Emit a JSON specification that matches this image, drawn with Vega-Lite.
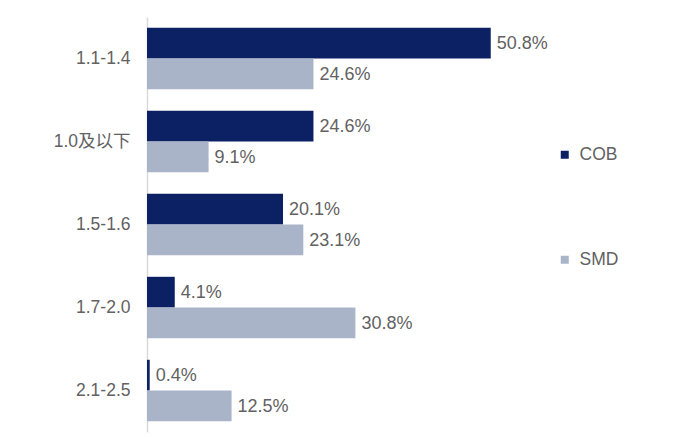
{
  "$schema": "https://vega.github.io/schema/vega-lite/v6.json",
  "autosize": "none",
  "width": 406,
  "height": 415,
  "padding": {"left": 147, "top": 17, "right": 147, "bottom": 5},
  "background": "white",
  "config": {
    "view": {"stroke": null},
    "font": "Liberation Sans, Noto Sans CJK SC"
  },
  "data": {
    "values": [
      {"range": "1.1-1.4", "type": "COB", "share": 0.508},
      {"range": "1.1-1.4", "type": "SMD", "share": 0.246},
      {"range": "1.0及以下", "type": "COB", "share": 0.246},
      {"range": "1.0及以下", "type": "SMD", "share": 0.091},
      {"range": "1.5-1.6", "type": "COB", "share": 0.201},
      {"range": "1.5-1.6", "type": "SMD", "share": 0.231},
      {"range": "1.7-2.0", "type": "COB", "share": 0.041},
      {"range": "1.7-2.0", "type": "SMD", "share": 0.308},
      {"range": "2.1-2.5", "type": "COB", "share": 0.004},
      {"range": "2.1-2.5", "type": "SMD", "share": 0.125}
    ]
  },
  "encoding": {
    "y": {
      "field": "range",
      "type": "nominal",
      "sort": ["1.1-1.4", "1.0及以下", "1.5-1.6", "1.7-2.0", "2.1-2.5"],
      "scale": {"paddingInner": 0.26, "paddingOuter": 0.13},
      "axis": {
        "title": null,
        "ticks": false,
        "domainColor": "#d9d9d9",
        "domainWidth": 1.5,
        "labelColor": "#626262",
        "labelFontSize": 17.5,
        "labelPadding": 17
      }
    },
    "yOffset": {
      "field": "type",
      "type": "nominal",
      "scale": {"domain": ["COB", "SMD"], "paddingInner": 0, "paddingOuter": 0}
    },
    "x": {
      "field": "share",
      "type": "quantitative",
      "scale": {"domain": [0, 0.6], "nice": false},
      "axis": null
    }
  },
  "layer": [
    {
      "mark": {"type": "bar"},
      "encoding": {
        "color": {
          "field": "type",
          "type": "nominal",
          "scale": {"domain": ["COB", "SMD"], "range": ["#0c2064", "#aab4c8"]},
          "legend": {
            "title": null,
            "orient": "none",
            "legendX": 409,
            "legendY": 129,
            "symbolType": "square",
            "symbolSize": 64,
            "symbolStrokeWidth": 0,
            "rowPadding": 86,
            "labelFontSize": 17.5,
            "labelColor": "#626262",
            "labelOffset": 6
          }
        }
      }
    },
    {
      "mark": {"type": "text", "align": "left", "baseline": "middle", "dx": 6, "dy": 1, "fontSize": 18, "color": "#626262"},
      "encoding": {
        "text": {"field": "share", "type": "quantitative", "format": ".1%"}
      }
    }
  ]
}
